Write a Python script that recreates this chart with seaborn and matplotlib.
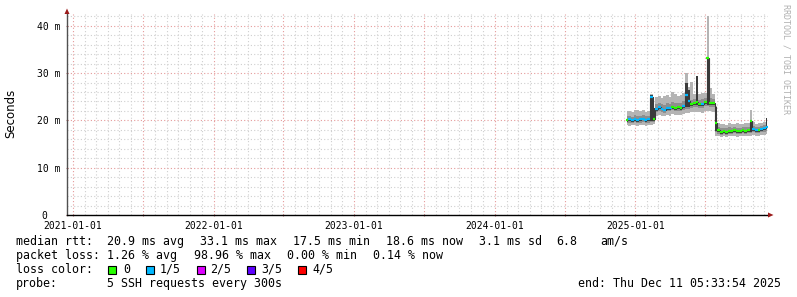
import numpy as np
import pandas as pd
import matplotlib
matplotlib.use("Agg")
import matplotlib.pyplot as plt
import matplotlib.dates as mdates
import matplotlib.ticker as mticker
from matplotlib.patches import Rectangle, Polygon
import seaborn as sns

# ---------------- data (ms) ----------------
dates = ["2024-12-10", "2024-12-17", "2024-12-24", "2024-12-31", "2025-01-07", "2025-01-14",
         "2025-01-21", "2025-01-28", "2025-02-04", "2025-02-11", "2025-02-18", "2025-02-25",
         "2025-03-04", "2025-03-11", "2025-03-18", "2025-03-25", "2025-04-01", "2025-04-08",
         "2025-04-15", "2025-04-22", "2025-04-29", "2025-05-06", "2025-05-13", "2025-05-20",
         "2025-05-27", "2025-06-03", "2025-06-10", "2025-06-17", "2025-06-24", "2025-07-01",
         "2025-07-08", "2025-07-15", "2025-07-22", "2025-07-29", "2025-08-05", "2025-08-12",
         "2025-08-19", "2025-08-26", "2025-09-02", "2025-09-09", "2025-09-16", "2025-09-23",
         "2025-09-30", "2025-10-07", "2025-10-14", "2025-10-21", "2025-10-28", "2025-11-04",
         "2025-11-11", "2025-11-18", "2025-11-25", "2025-12-02", "2025-12-09"]

median_ms = [20.1, 20.2, 20.0, 20.3, 20.1, 20.2, 20.4, 20.1, 20.2, 25.0, 20.3,
             22.4, 22.8, 22.5, 22.3, 22.7, 22.6, 22.9, 22.6, 22.8, 22.7, 23.0, 25.4, 24.0,
             23.4, 23.6, 23.8, 23.4, 23.5, 23.8, 33.1, 23.7, 23.6,
             19.4, 17.9, 17.6, 17.7, 17.6, 17.8, 17.7, 17.9, 17.7, 17.8, 17.9, 17.8, 18.0,
             19.8, 18.1, 17.9, 18.0, 18.1, 18.3, 18.6]
smoke_min = [19.0, 18.9, 19.1, 19.0, 18.8, 19.0, 19.1, 18.9, 19.0, 19.0, 19.2,
             21.0, 21.1, 20.9, 21.0, 21.2, 21.0, 21.3, 21.1, 21.2, 21.2, 21.4, 21.5, 21.6,
             21.7, 21.8, 21.8, 21.7, 21.6, 21.9, 22.0, 21.9, 21.8,
             16.8, 16.7, 16.5, 16.6, 16.5, 16.7, 16.6, 16.7, 16.5, 16.6, 16.7, 16.6, 16.8,
             16.7, 16.9, 16.7, 16.8, 16.9, 17.0, 17.1]
smoke_max = [21.9, 22.0, 21.8, 22.2, 22.3, 21.9, 22.1, 21.8, 22.0, 25.5, 21.8,
             25.0, 25.2, 24.8, 25.1, 25.4, 25.0, 26.0, 25.6, 25.2, 25.4, 25.7, 30.0, 27.0,
             28.2, 25.6, 29.3, 25.5, 25.7, 25.9, 42.0, 26.8, 25.5,
             23.0, 19.4, 19.2, 19.3, 19.1, 19.4, 19.2, 19.3, 19.5, 19.2, 19.3, 19.5, 19.4,
             22.2, 19.6, 19.3, 19.5, 19.4, 19.6, 20.5]
inner_low = [19.5, 19.5, 19.4, 19.6, 19.4, 19.5, 19.7, 19.4, 19.5, 19.6, 19.6,
             21.7, 22.0, 21.8, 21.6, 22.0, 21.9, 22.1, 21.9, 22.0, 22.0, 22.2, 22.4, 22.5,
             22.6, 22.8, 22.9, 22.6, 22.7, 23.0, 23.0, 22.9, 22.8,
             17.6, 17.2, 17.0, 17.1, 17.0, 17.2, 17.1, 17.3, 17.1, 17.2, 17.3, 17.2, 17.4,
             17.3, 17.5, 17.3, 17.4, 17.5, 17.6, 17.8]
inner_high = [20.9, 21.0, 20.8, 21.1, 21.0, 20.9, 21.2, 20.9, 21.0, 21.2, 21.1,
              23.4, 23.7, 23.4, 23.3, 23.6, 23.5, 23.9, 23.6, 23.7, 23.6, 24.0, 26.0, 25.0,
              24.4, 24.5, 25.0, 24.4, 24.5, 24.8, 26.5, 24.7, 24.6,
              22.0, 18.6, 18.4, 18.5, 18.3, 18.6, 18.4, 18.6, 18.5, 18.5, 18.6, 18.6, 18.7,
              19.0, 18.8, 18.6, 18.7, 18.8, 19.0, 19.3]
dark_low = [19.7, 19.8, 19.6, 19.9, 19.7, 19.8, 20.0, 19.7, 19.8, 19.9, 19.9,
            22.0, 22.4, 22.1, 21.9, 22.3, 22.2, 22.5, 22.2, 22.4, 22.3, 22.6, 22.8, 22.9,
            23.0, 23.2, 23.3, 23.0, 23.1, 23.4, 23.3, 23.3, 23.2,
            17.8, 17.5, 17.2, 17.3, 17.2, 17.4, 17.3, 17.5, 17.3, 17.4, 17.5, 17.4, 17.6,
            17.5, 17.7, 17.5, 17.6, 17.7, 17.9, 18.1]
dark_high = [20.0, 20.1, 19.9, 20.2, 20.0, 20.1, 20.3, 20.0, 20.1, 25.3, 22.6,
             22.3, 22.7, 22.4, 22.2, 22.6, 22.5, 22.8, 22.5, 22.7, 22.6, 22.9, 27.9, 26.5,
             23.3, 23.5, 29.3, 23.3, 23.4, 23.7, 33.1, 23.6, 23.5,
             22.8, 17.8, 17.5, 17.6, 17.5, 17.7, 17.6, 17.8, 17.6, 17.7, 17.8, 17.7, 17.9,
             19.7, 18.0, 17.8, 17.9, 18.0, 18.2, 20.5]
lost_pings = [0, 1, 1, 1, 1, 1, 1, 1, 1, 1, 0,
              1, 1, 1, 1, 1, 1, 0, 0, 0, 0, 1, 1, 1,
              0, 0, 0, 0, 1, 0, 0, 0, 0,
              0, 0, 0, 0, 0, 0, 0, 0, 0, 0, 0, 0, 0,
              0, 1, 1, 0, 1, 1, 1]

loss_labels = ["0", "1/5", "2/5", "3/5", "4/5"]
loss_colors = ["#26ff00", "#00b8ff", "#dd00ff", "#5e00ff", "#ff0000"]
x_start = "2020-12-16 09:00"
x_end = "2025-12-11 05:33:54"
y_top = 42.5
year_ticks_label_month = 1

# ---------------- figure ----------------
W, H = 797, 297
fig = plt.figure(figsize=(W / 100, H / 100), dpi=100)
fig.patch.set_facecolor("white")
ax = fig.add_axes([67 / W, 82 / H, 701 / W, 201 / H])
ax.set_facecolor("white")
sns.set_style("white")

t = mdates.date2num(pd.to_datetime(dates))
med = np.array(median_ms)

ax.fill_between(t, smoke_min, smoke_max, step="mid", color="#b4b4b4", lw=0, zorder=2)
ax.fill_between(t, inner_low, inner_high, step="mid", color="#8e8e8e", lw=0, zorder=3)
ax.fill_between(t, dark_low, dark_high, step="mid", color="#3a3a3a", lw=0, zorder=4)

df = pd.DataFrame({"t": t, "median": med})
sns.lineplot(data=df, x="t", y="median", ax=ax, color="#3a3a3a", lw=0.8,
             drawstyle="steps-mid", zorder=5, legend=False)
half = 3.6
ax.hlines(med, t - half, t + half, colors=[loss_colors[l] for l in lost_pings],
          lw=1.6, zorder=6)

ax.xaxis_date()
ax.set_xlim(mdates.date2num(pd.Timestamp(x_start)), mdates.date2num(pd.Timestamp(x_end)))
ax.set_ylim(0, y_top)
ax.set_xlabel("")
ax.set_ylabel("")

ax.xaxis.set_major_locator(mdates.MonthLocator(bymonth=[1, 7]))
ax.xaxis.set_minor_locator(mdates.MonthLocator())


def fmt_date(v, pos):
    d = mdates.num2date(v)
    return d.strftime("%Y-%m-%d") if d.month == year_ticks_label_month else ""


ax.xaxis.set_major_formatter(mticker.FuncFormatter(fmt_date))
ax.yaxis.set_major_locator(mticker.MultipleLocator(10))
ax.yaxis.set_minor_locator(mticker.MultipleLocator(2))
ax.yaxis.set_major_formatter(mticker.FuncFormatter(lambda v, p: "0  " if v == 0 else f"{v:.0f} m"))

dots = (0, (1, 2))
ax.grid(which="minor", color="#cfcfcf", ls=dots, lw=0.8, zorder=0)
ax.grid(which="major", color="#e59a9a", ls=dots, lw=0.8, zorder=1)
ax.set_axisbelow(True)

mono = "DejaVu Sans Mono"
ax.tick_params(which="major", length=2, width=0.8, direction="inout", color="#c07070",
               labelsize=7, pad=3)
ax.tick_params(which="minor", length=0)
for lab in ax.get_xticklabels() + ax.get_yticklabels():
    lab.set_fontfamily(mono)
ax.tick_params(axis="y", pad=4)

for s in ["top", "right"]:
    ax.spines[s].set_visible(False)
ax.spines["left"].set_color("#505050")
ax.spines["bottom"].set_color("black")
ax.spines["left"].set_linewidth(1)
ax.spines["bottom"].set_linewidth(1)

# arrows
def px(x, y):
    return (x / W, 1 - y / H)

arrow_col = "#9b1b1b"
fig.add_artist(Polygon([px(64.5, 14), px(69.5, 14), px(67, 8.5)], closed=True,
                       transform=fig.transFigure, color=arrow_col, lw=0))
fig.add_artist(Polygon([px(768, 212.5), px(768, 217.5), px(773.5, 215)], closed=True,
                       transform=fig.transFigure, color=arrow_col, lw=0))

# labels
fig.text(*px(11, 113), "Seconds", rotation=90, ha="center", va="center",
         fontsize=8.5, family="DejaVu Sans", color="black")
fig.text(*px(786, 4), "RRDTOOL / TOBI OETIKER", rotation=270, ha="center", va="top",
         fontsize=6.0, family=mono, color="#b0b0b0")

fs = 8.4


def txt(x, y, s, ha="left"):
    fig.text(*px(x, y), s, ha=ha, va="baseline", fontsize=fs, family=mono, color="black")


row1, row2, row3, row4 = 245.0, 259.0, 273.0, 287.0
txt(16, row1, "median rtt:")
txt(107, row1, "20.9 ms avg")
txt(200, row1, "33.1 ms max")
txt(293, row1, "17.5 ms min")
txt(386, row1, "18.6 ms now")
txt(479, row1, "3.1 ms sd")
txt(556, row1, "6.8")
txt(600, row1, "am/s")

txt(16, row2, "packet loss:")
txt(107, row2, "1.26 % avg")
txt(194, row2, "98.96 % max")
txt(287, row2, "0.00 % min")
txt(373, row2, "0.14 % now")

txt(16, row3, "loss color:")
box_x = [108, 145.5, 196.5, 247, 297.5]
lab_x = [123, 160, 210.5, 261.5, 312.5]
for bx, lx, c, l in zip(box_x, lab_x, loss_colors, loss_labels):
    fig.add_artist(Rectangle(px(bx, 273.5), 8 / W, 8 / H, transform=fig.transFigure,
                             facecolor=c, edgecolor="black", lw=0.8))
    txt(lx, row3, l)

txt(16, row4, "probe:")
txt(107, row4, "5 SSH requests every 300s")
txt(781, row4, "end: Thu Dec 11 05:33:54 2025", ha="right")

fig.savefig("out.png", dpi=100, facecolor="white")
